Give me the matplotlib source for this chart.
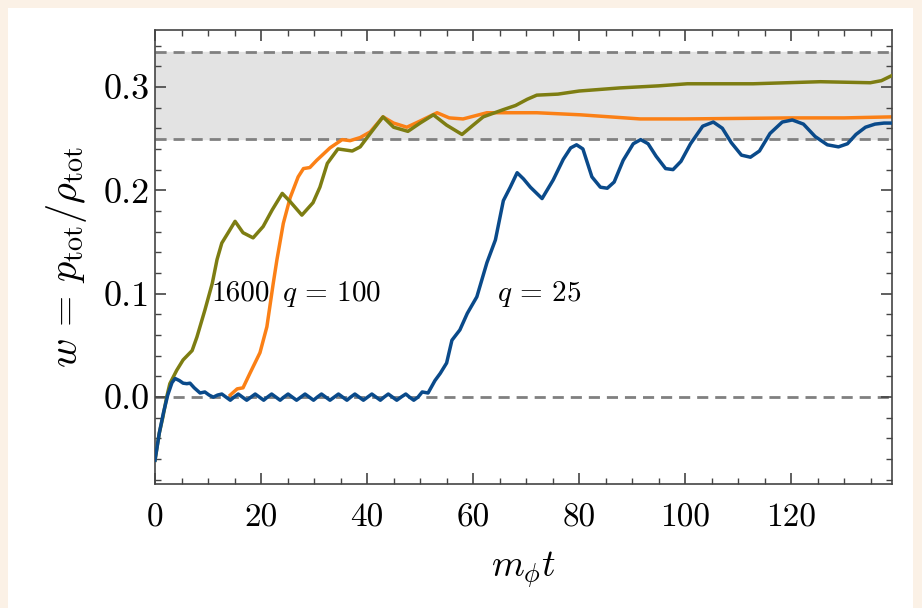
import matplotlib
matplotlib.use('Agg')
import matplotlib.pyplot as plt
from matplotlib.patches import Rectangle
from matplotlib.ticker import MultipleLocator

plt.rcParams['font.family'] = 'serif'
plt.rcParams['font.serif'] = ['cmr10']
plt.rcParams['mathtext.fontset'] = 'cm'
plt.rcParams['axes.formatter.use_mathtext'] = True

# q = 25 (blue)
t_blue = [0, 0.8, 1.6, 2.4, 3.2, 3.8, 4.6, 5.3, 6.0, 6.6, 7.4, 8.5, 9.4, 10.2, 11.0, 11.8,
          12.6, 13.4, 14.2, 14.9, 15.7, 16.5, 17.3, 18.1, 18.9, 19.7, 20.5, 21.2, 22.0, 22.8,
          23.6, 24.3, 25.1, 25.9, 26.7, 27.5, 28.3, 29.1, 29.9, 30.6, 31.4, 32.2, 33.0, 33.8,
          34.6, 35.4, 36.2, 36.9, 37.7, 38.5, 39.3, 40.1, 40.9, 41.7, 42.5, 43.2, 44.0, 44.8,
          45.6, 46.4, 47.3, 48.0, 48.8, 49.6, 50.4, 51.5, 52.8, 53.8, 55.0, 56.0, 57.5, 58.9,
          60.7, 62.6, 64.2, 65.7, 67.0, 68.3, 69.5, 70.8, 73.0, 75.1, 77.0, 78.4, 79.5, 80.7,
          82.4, 84.0, 85.3, 86.6, 88.3, 90.2, 91.6, 93.0, 94.5, 96.3, 97.7, 99.2, 101.0, 103.3,
          105.3, 107.0, 108.7, 110.6, 112.3, 114.0, 116.0, 118.3, 120.2, 122.3, 124.5, 126.8,
          128.9, 130.6, 132.2, 134.0, 135.8, 137.5, 139.0]
w_blue = [-0.061, -0.035, -0.015, 0.002, 0.014, 0.018, 0.016, 0.0135, 0.013, 0.0135, 0.009,
          0.004, 0.005, 0.002, 0.0, 0.002,
          0.003, 0.0, -0.003, 0.0, 0.003, 0.0, -0.003, 0.0, 0.003, 0.0, -0.003, 0.0, 0.003, 0.0,
          -0.003, 0.0, 0.003, 0.0, -0.003, 0.0, 0.003, 0.0, -0.003, 0.0, 0.003, 0.0, -0.003, 0.0,
          0.003, 0.0, -0.003, 0.0, 0.003, 0.0, -0.003, 0.0, 0.003, 0.0, -0.003, 0.0, 0.003, 0.0,
          -0.003, 0.0, 0.003, 0.0, -0.003, 0.0, 0.005, 0.004, 0.016, 0.023, 0.033, 0.055, 0.065,
          0.081, 0.097, 0.130, 0.152, 0.190, 0.203, 0.217, 0.211, 0.203, 0.192, 0.210, 0.230,
          0.241, 0.244, 0.240, 0.213, 0.203, 0.202, 0.208, 0.229, 0.245, 0.249, 0.245, 0.233,
          0.221, 0.220, 0.228, 0.245, 0.262, 0.266, 0.260, 0.246, 0.234, 0.232, 0.238, 0.255,
          0.266, 0.268, 0.264, 0.252, 0.244, 0.242, 0.245, 0.254, 0.261, 0.264, 0.265, 0.265]

# q = 100 (orange)
t_orange = [14.2, 15.5, 16.6, 17.9, 19.8, 21.1, 22.3, 23.0, 24.2, 25.5, 27.0, 28.0, 29.2, 30.5,
            33.0, 35.3, 36.8, 38.7, 40.6, 43.0, 45.0, 47.5, 50.0, 53.2, 55.5, 58.1, 62.6, 72.0,
            80.2, 91.5, 100.0, 120.0, 130.0, 139.0]
w_orange = [0.002, 0.008, 0.009, 0.023, 0.043, 0.068, 0.110, 0.133, 0.168, 0.193, 0.213, 0.221,
            0.222, 0.229, 0.241, 0.249, 0.248, 0.251, 0.2565, 0.271, 0.265, 0.261, 0.267, 0.275,
            0.270, 0.269, 0.275, 0.275, 0.273, 0.269, 0.269, 0.270, 0.270, 0.271]

# 1600 (olive)
t_olive = [0, 0.8, 1.5, 2.2, 2.8, 4.1, 5.3, 7.0, 7.9, 9.4, 10.8, 11.7, 12.6, 13.8, 15.1, 16.6,
           18.5, 20.4, 22.1, 24.0, 25.5, 27.7, 29.8, 31.1, 32.5, 34.5, 37.2, 38.7, 40.6, 43.0,
           45.0, 47.7, 50.0, 52.5, 55.0, 57.9, 60.0, 61.9, 65.7, 68.0, 70.2, 72.0, 76.0, 80.0,
           87.7, 95.0, 100.4, 112.8, 125.5, 134.9, 137.0, 139.0]
w_olive = [-0.061, -0.035, -0.019, 0.0, 0.013, 0.026, 0.036, 0.045, 0.058, 0.084, 0.110, 0.133,
           0.149, 0.159, 0.170, 0.159, 0.154, 0.165, 0.181, 0.197, 0.189, 0.176, 0.188, 0.203,
           0.226, 0.240, 0.238, 0.242, 0.255, 0.271, 0.261, 0.257, 0.265, 0.273, 0.263, 0.254,
           0.263, 0.271, 0.278, 0.282, 0.288, 0.292, 0.293, 0.296, 0.299, 0.301, 0.303, 0.303,
           0.305, 0.304, 0.306, 0.311]

c_blue = '#0a4a8a'
c_orange = '#fb8016'
c_olive = '#7d7d12'

fig = plt.figure(figsize=(9.22, 6.08), dpi=100)
fig.patch.set_facecolor('#fbf1e6')
fig.patches.append(Rectangle((8/922, 0), (913-8)/922, 1 - 8/608, transform=fig.transFigure,
                             facecolor='white', edgecolor='none', zorder=-1))
ax = fig.add_axes([155/922, 1 - 484/608, (892-155)/922, (484-30)/608])

ax.axhspan(0.25, 1/3, color='#e3e3e3', zorder=0)
for yv in [0.0, 0.25, 1/3]:
    ax.axhline(yv, color='#808080', ls=(0, (4, 2.5)), lw=2, zorder=1)

ax.plot(t_orange, w_orange, color=c_orange, lw=2.5, zorder=2, solid_joinstyle='round')
ax.plot(t_olive, w_olive, color=c_olive, lw=2.5, zorder=3, solid_joinstyle='round')
ax.plot(t_blue, w_blue, color=c_blue, lw=2.5, zorder=4, solid_joinstyle='round')

ax.text(10.6, 0.1, '1600', fontsize=21, va='center', ha='left')
ax.text(24.0, 0.1, '$q\\,=\\,100$', fontsize=21, va='center', ha='left')
ax.text(64.5, 0.1, '$q\\,=\\,25$', fontsize=21, va='center', ha='left')

ax.set_xlim(0, 139)
ax.set_ylim(-0.084, 0.355)
ax.xaxis.set_minor_locator(MultipleLocator(5))
ax.yaxis.set_minor_locator(MultipleLocator(0.02))
ax.set_xticks([0, 20, 40, 60, 80, 100, 120])
ax.set_xticklabels(['0', '20', '40', '60', '80', '100', '120'])
ax.set_yticks([0.0, 0.1, 0.2, 0.3])
ax.set_yticklabels(['0.0', '0.1', '0.2', '0.3'])

ax.tick_params(which='both', direction='in', top=True, right=True, colors='#444444',
               labelcolor='black')
ax.tick_params(which='major', length=8, width=1.2)
ax.tick_params(which='minor', length=4, width=1.0)
ax.tick_params(axis='x', which='major', labelsize=24, pad=14)
ax.tick_params(axis='y', which='major', labelsize=26, pad=4)
for s in ax.spines.values():
    s.set_color('#444444')
    s.set_linewidth(1.2)

ax.set_xlabel('$m_\\phi t$', fontsize=27, labelpad=12)
ax.set_ylabel('$w\\,=\\,p_{\\rm tot}/\\rho_{\\rm tot}$', fontsize=29, labelpad=10)

fig.savefig('out.png', dpi=100, facecolor=fig.get_facecolor())
